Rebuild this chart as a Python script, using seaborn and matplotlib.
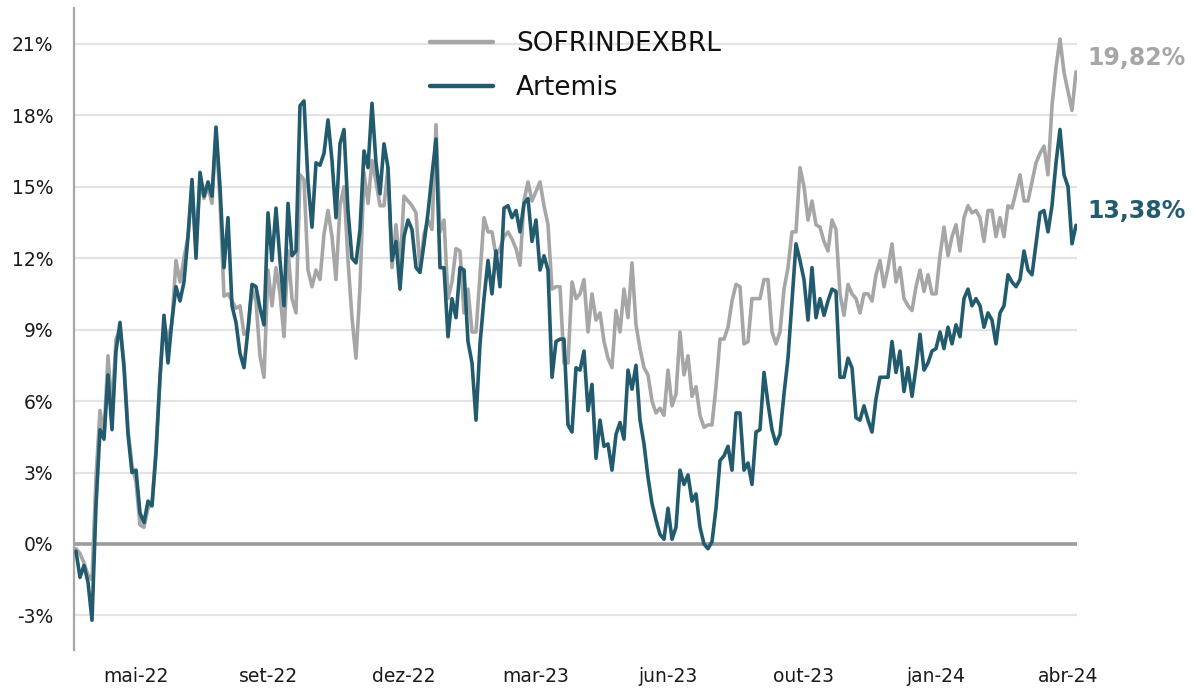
import pandas as pd
import numpy as np
import matplotlib.pyplot as plt
import seaborn as sns

# cumulative return (%), one reading per trading-day bucket, left to right
artemis = [
    -0.3, -1.4, -0.9, -1.6, -3.2, 1.6, 4.8, 4.4, 7.1, 4.8,
    8.1, 9.3, 7.4, 4.6, 3.0, 3.1, 1.3, 0.9, 1.8, 1.6,
    3.8, 7.0, 9.6, 7.6, 9.4, 10.8, 10.2, 11.0, 12.9, 15.3,
    12.0, 15.6, 14.6, 15.2, 14.6, 17.5, 15.0, 11.6, 13.7, 10.0,
    9.3, 8.0, 7.4, 9.0, 10.9, 10.8, 9.9, 9.2, 13.9, 11.9,
    14.1, 11.9, 10.0, 14.3, 12.1, 12.3, 18.4, 18.6, 15.2, 13.3,
    16.0, 15.9, 16.4, 17.8, 16.1, 13.7, 16.8, 17.4, 14.0, 12.0,
    11.8, 13.2, 16.5, 15.8, 18.5, 16.0, 14.7, 16.8, 15.8, 11.9,
    12.7, 10.7, 12.9, 13.6, 13.2, 11.6, 11.4, 12.6, 13.9, 15.5,
    17.0, 11.6, 11.6, 8.7, 10.3, 9.5, 11.6, 11.5, 8.5, 7.6,
    5.2, 8.4, 10.3, 11.9, 10.5, 12.3, 10.8, 14.1, 14.2, 13.7,
    14.0, 13.1, 14.3, 14.5, 12.7, 13.6, 11.5, 12.1, 11.5, 7.0,
    8.5, 8.6, 8.6, 5.0, 4.7, 7.4, 7.3, 8.1, 5.6, 6.7,
    3.6, 5.2, 4.1, 4.2, 3.1, 4.6, 5.1, 4.4, 7.3, 6.5,
    7.5, 5.2, 4.2, 2.8, 1.7, 1.0, 0.4, 0.2, 1.5, 0.2,
    0.7, 3.1, 2.5, 2.9, 1.8, 2.1, 0.7, 0.0, -0.2, 0.1,
    1.5, 3.5, 3.7, 4.1, 3.1, 5.5, 5.5, 3.1, 3.4, 2.5,
    4.7, 4.8, 7.2, 5.9, 4.8, 4.2, 4.6, 6.3, 7.8, 10.2,
    12.6, 11.9, 11.1, 9.4, 11.6, 9.5, 10.3, 9.6, 10.2, 10.7,
    10.6, 7.0, 7.0, 7.8, 7.4, 5.3, 5.2, 5.8, 5.2, 4.7,
    6.1, 7.0, 7.0, 7.0, 8.5, 7.2, 8.1, 6.4, 7.4, 6.2,
    7.4, 8.8, 7.3, 7.6, 8.1, 8.2, 8.9, 8.2, 9.1, 8.4,
    9.2, 8.7, 10.3, 10.7, 10.0, 10.3, 10.0, 9.1, 9.7, 9.4,
    8.4, 9.7, 10.0, 11.3, 11.0, 10.8, 11.1, 12.3, 11.5, 11.3,
    12.6, 13.9, 14.0, 13.1, 14.2, 16.0, 17.4, 15.5, 15.0, 12.6,
    13.38,
]

sofr = [
    -0.2, -0.4, -0.8, -1.3, -1.5, 2.8, 5.6, 4.6, 7.9, 5.6,
    8.6, 9.0, 7.6, 4.8, 3.3, 2.6, 0.8, 0.7, 1.5, 1.7,
    4.0, 7.0, 9.3, 8.6, 9.3, 11.9, 11.0, 12.0, 12.9, 15.0,
    12.4, 15.3, 14.5, 15.0, 14.3, 17.3, 14.4, 10.4, 10.5, 10.2,
    9.9, 10.0, 8.8, 9.0, 10.7, 10.2, 7.9, 7.0, 11.5, 10.0,
    11.6, 10.5, 8.7, 12.3, 10.3, 9.7, 15.5, 15.3, 11.5, 10.8,
    11.5, 11.1, 13.0, 14.0, 12.9, 11.1, 14.2, 15.0, 11.9, 9.5,
    7.8, 10.8, 15.6, 14.3, 16.1, 15.2, 14.2, 14.2, 15.8, 11.6,
    13.4, 11.6, 14.6, 14.4, 14.2, 13.9, 11.5, 13.0, 13.6, 13.2,
    17.6, 13.1, 13.6, 10.3, 11.0, 12.4, 12.3, 9.7, 10.7, 8.9,
    8.9, 11.3, 13.7, 13.1, 13.1, 12.1, 12.4, 12.9, 13.1, 12.8,
    12.4, 11.7, 14.4, 15.2, 14.4, 14.8, 15.2, 14.2, 13.4, 10.7,
    10.8, 10.8, 7.6, 7.6, 11.0, 10.3, 10.5, 11.1, 8.9, 10.5,
    9.4, 9.7, 8.5, 7.8, 7.4, 9.8, 8.9, 10.7, 9.5, 11.8,
    9.2, 8.2, 7.4, 7.1, 6.0, 5.5, 5.7, 5.4, 7.3, 5.8,
    6.3, 8.9, 7.1, 7.9, 6.2, 6.6, 5.4, 4.9, 5.0, 5.0,
    6.6, 8.6, 8.6, 9.1, 10.2, 10.9, 10.8, 8.4, 8.5, 10.3,
    10.3, 10.3, 11.1, 11.1, 8.9, 8.4, 8.9, 10.7, 11.6, 13.1,
    13.1, 15.8, 15.0, 13.6, 14.4, 13.4, 13.3, 12.7, 12.3, 13.6,
    13.2, 10.5, 9.6, 10.9, 10.5, 10.3, 9.7, 10.5, 10.5, 10.2,
    11.3, 11.9, 10.8, 11.6, 12.6, 11.0, 11.6, 10.3, 10.0, 9.8,
    10.8, 11.5, 10.6, 11.3, 10.5, 10.5, 12.1, 13.3, 12.1, 12.9,
    13.4, 12.3, 13.7, 14.2, 13.9, 14.0, 13.7, 12.7, 14.0, 14.0,
    12.9, 13.7, 12.9, 14.2, 14.1, 14.8, 15.5, 14.4, 14.4, 15.2,
    16.0, 16.4, 16.7, 15.5, 18.4, 20.0, 21.2, 19.8, 19.0, 18.2,
    19.82,
]

tick_idx = [15, 48, 82, 115, 148, 182, 215, 248]
tick_labels = ["mai-22", "set-22", "dez-22", "mar-23", "jun-23", "out-23", "jan-24", "abr-24"]
y_ticks = [-3, 0, 3, 6, 9, 12, 15, 18, 21]

GREY = "#a6a6a6"
TEAL = "#235b6e"

df = pd.concat([
    pd.DataFrame({"idx": range(len(sofr)), "ret": sofr, "serie": "SOFRINDEXBRL"}),
    pd.DataFrame({"idx": range(len(artemis)), "ret": artemis, "serie": "Artemis"}),
])

sns.set_style("white")
plt.rcParams["font.family"] = ["DejaVu Sans"]

fig = plt.figure(figsize=(11.94, 6.88), dpi=100)
ax = fig.add_axes([74 / 1194, 38 / 688, (1077 - 74) / 1194, (650 - 8) / 688])

for v in y_ticks:
    if v != 0:
        ax.axhline(v, color="#e3e3e3", lw=1.6, zorder=0)
ax.axhline(0, color="#9b9b9b", lw=2.6, zorder=1)

sns.lineplot(data=df, x="idx", y="ret", hue="serie",
             hue_order=["SOFRINDEXBRL", "Artemis"],
             palette={"SOFRINDEXBRL": GREY, "Artemis": TEAL},
             linewidth=2.6, ax=ax, zorder=3)

ax.set_xlim(-0.5, len(sofr) - 0.75)
ax.set_ylim(-4.45, 22.5)
ax.set_yticks(y_ticks)
ax.set_yticklabels([f"{v}%" for v in y_ticks])
ax.set_xticks(tick_idx)
ax.set_xticklabels(tick_labels)
ax.tick_params(axis="both", length=0, labelsize=13.5, labelcolor="#1a1a1a")
ax.tick_params(axis="y", pad=15)
ax.tick_params(axis="x", pad=12)
ax.set_xlabel("")
ax.set_ylabel("")

for s in ["top", "right", "bottom"]:
    ax.spines[s].set_visible(False)
ax.spines["left"].set_color("#a6a6a6")
ax.spines["left"].set_linewidth(1.6)

leg = ax.legend(loc="upper left", bbox_to_anchor=(430 / 1194, (688 - 31) / 688),
                bbox_transform=fig.transFigure, frameon=False, fontsize=19,
                handlelength=2.4, handletextpad=0.85, labelspacing=0.7,
                borderpad=0, borderaxespad=0)
for line in leg.get_lines():
    line.set_linewidth(3.2)
for t in leg.get_texts():
    t.set_color("#111111")

ax.annotate(f"{sofr[-1]:.2f}%".replace(".", ","), xy=(len(sofr) - 1, sofr[-1]),
            xytext=(8, 10), textcoords="offset points", va="center", ha="left",
            fontsize=17, fontweight="bold", color=GREY, annotation_clip=False)
ax.annotate(f"{artemis[-1]:.2f}%".replace(".", ","), xy=(len(artemis) - 1, artemis[-1]),
            xytext=(8, 10), textcoords="offset points", va="center", ha="left",
            fontsize=17, fontweight="bold", color=TEAL, annotation_clip=False)

fig.savefig("out.png", dpi=100, facecolor="white")
